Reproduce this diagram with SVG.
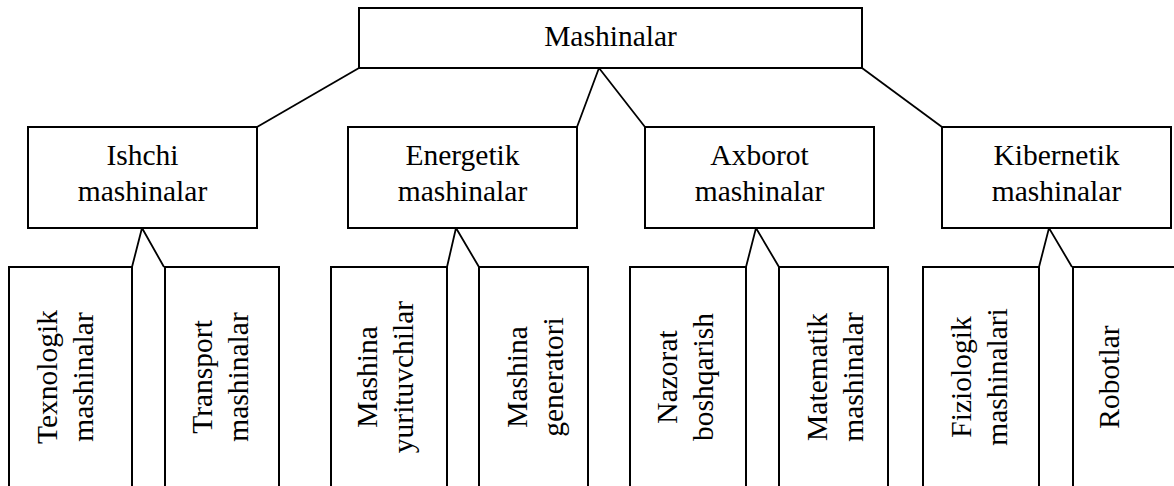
<svg xmlns="http://www.w3.org/2000/svg" width="1174" height="486" viewBox="0 0 1174 486">
<style>
.box{fill:#fff;stroke:#000;stroke-width:2}
.ln{fill:none;stroke:#000;stroke-width:1.8;stroke-linejoin:miter}
.t{font-family:'Liberation Serif','Times New Roman','DejaVu Serif',serif;font-size:29.5px;fill:#000;text-anchor:middle}
</style>
<rect width="1174" height="486" fill="#fff"/>
<g id="connectors">
<polyline class="ln" points="257,127 359,68"/>
<polyline class="ln" points="577,127 599,68 645,127"/>
<polyline class="ln" points="942,127 862,68"/>
<polyline class="ln" points="132,267 142,228 164,267"/>
<polyline class="ln" points="447,267 456,228 479,267"/>
<polyline class="ln" points="746,267 756,228 779,267"/>
<polyline class="ln" points="1039,267 1049,228 1072,267"/>
</g>
<g id="mashinalar">
<rect class="box" x="359" y="8" width="503" height="60"/>
<text class="t" x="610.5" y="46">Mashinalar</text>
</g>
<g id="ishchi">
<rect class="box" x="28" y="127" width="229" height="101"/>
<text class="t" x="142.5" y="165">Ishchi</text>
<text class="t" x="142.5" y="201">mashinalar</text>
</g>
<g id="energetik">
<rect class="box" x="348" y="127" width="229" height="101"/>
<text class="t" x="462.5" y="165">Energetik</text>
<text class="t" x="462.5" y="201">mashinalar</text>
</g>
<g id="axborot">
<rect class="box" x="645" y="127" width="229" height="101"/>
<text class="t" x="759.5" y="165">Axborot</text>
<text class="t" x="759.5" y="201">mashinalar</text>
</g>
<g id="kibernetik">
<rect class="box" x="942" y="127" width="229" height="101"/>
<text class="t" x="1056.5" y="165">Kibernetik</text>
<text class="t" x="1056.5" y="201">mashinalar</text>
</g>
<g id="texnologik">
<rect class="box" x="9" y="267" width="123" height="230"/>
<text class="t" transform="translate(57,377) rotate(-90)">Texnologik</text>
<text class="t" transform="translate(93,377) rotate(-90)">mashinalar</text>
</g>
<g id="transport">
<rect class="box" x="165" y="267" width="114" height="230"/>
<text class="t" transform="translate(212,377) rotate(-90)">Transport</text>
<text class="t" transform="translate(248,377) rotate(-90)">mashinalar</text>
</g>
<g id="yurituvchilar">
<rect class="box" x="331" y="267" width="116" height="230"/>
<text class="t" transform="translate(377,377) rotate(-90)">Mashina</text>
<text class="t" transform="translate(413,377) rotate(-90)">yurituvchilar</text>
</g>
<g id="generatori">
<rect class="box" x="479" y="267" width="109" height="230"/>
<text class="t" transform="translate(527,377) rotate(-90)">Mashina</text>
<text class="t" transform="translate(563,377) rotate(-90)">generatori</text>
</g>
<g id="nazorat">
<rect class="box" x="630" y="267" width="116" height="230"/>
<text class="t" transform="translate(677,377) rotate(-90)">Nazorat</text>
<text class="t" transform="translate(713,377) rotate(-90)">boshqarish</text>
</g>
<g id="matematik">
<rect class="box" x="779" y="267" width="109" height="230"/>
<text class="t" transform="translate(827,377) rotate(-90)">Matematik</text>
<text class="t" transform="translate(863,377) rotate(-90)">mashinalar</text>
</g>
<g id="fiziologik">
<rect class="box" x="923" y="267" width="116" height="230"/>
<text class="t" transform="translate(971,377) rotate(-90)">Fiziologik</text>
<text class="t" transform="translate(1007,377) rotate(-90)">mashinalari</text>
</g>
<g id="robotlar">
<rect class="box" x="1073" y="267" width="110" height="230"/>
<text class="t" transform="translate(1119,377) rotate(-90)">Robotlar</text>
</g>
</svg>
